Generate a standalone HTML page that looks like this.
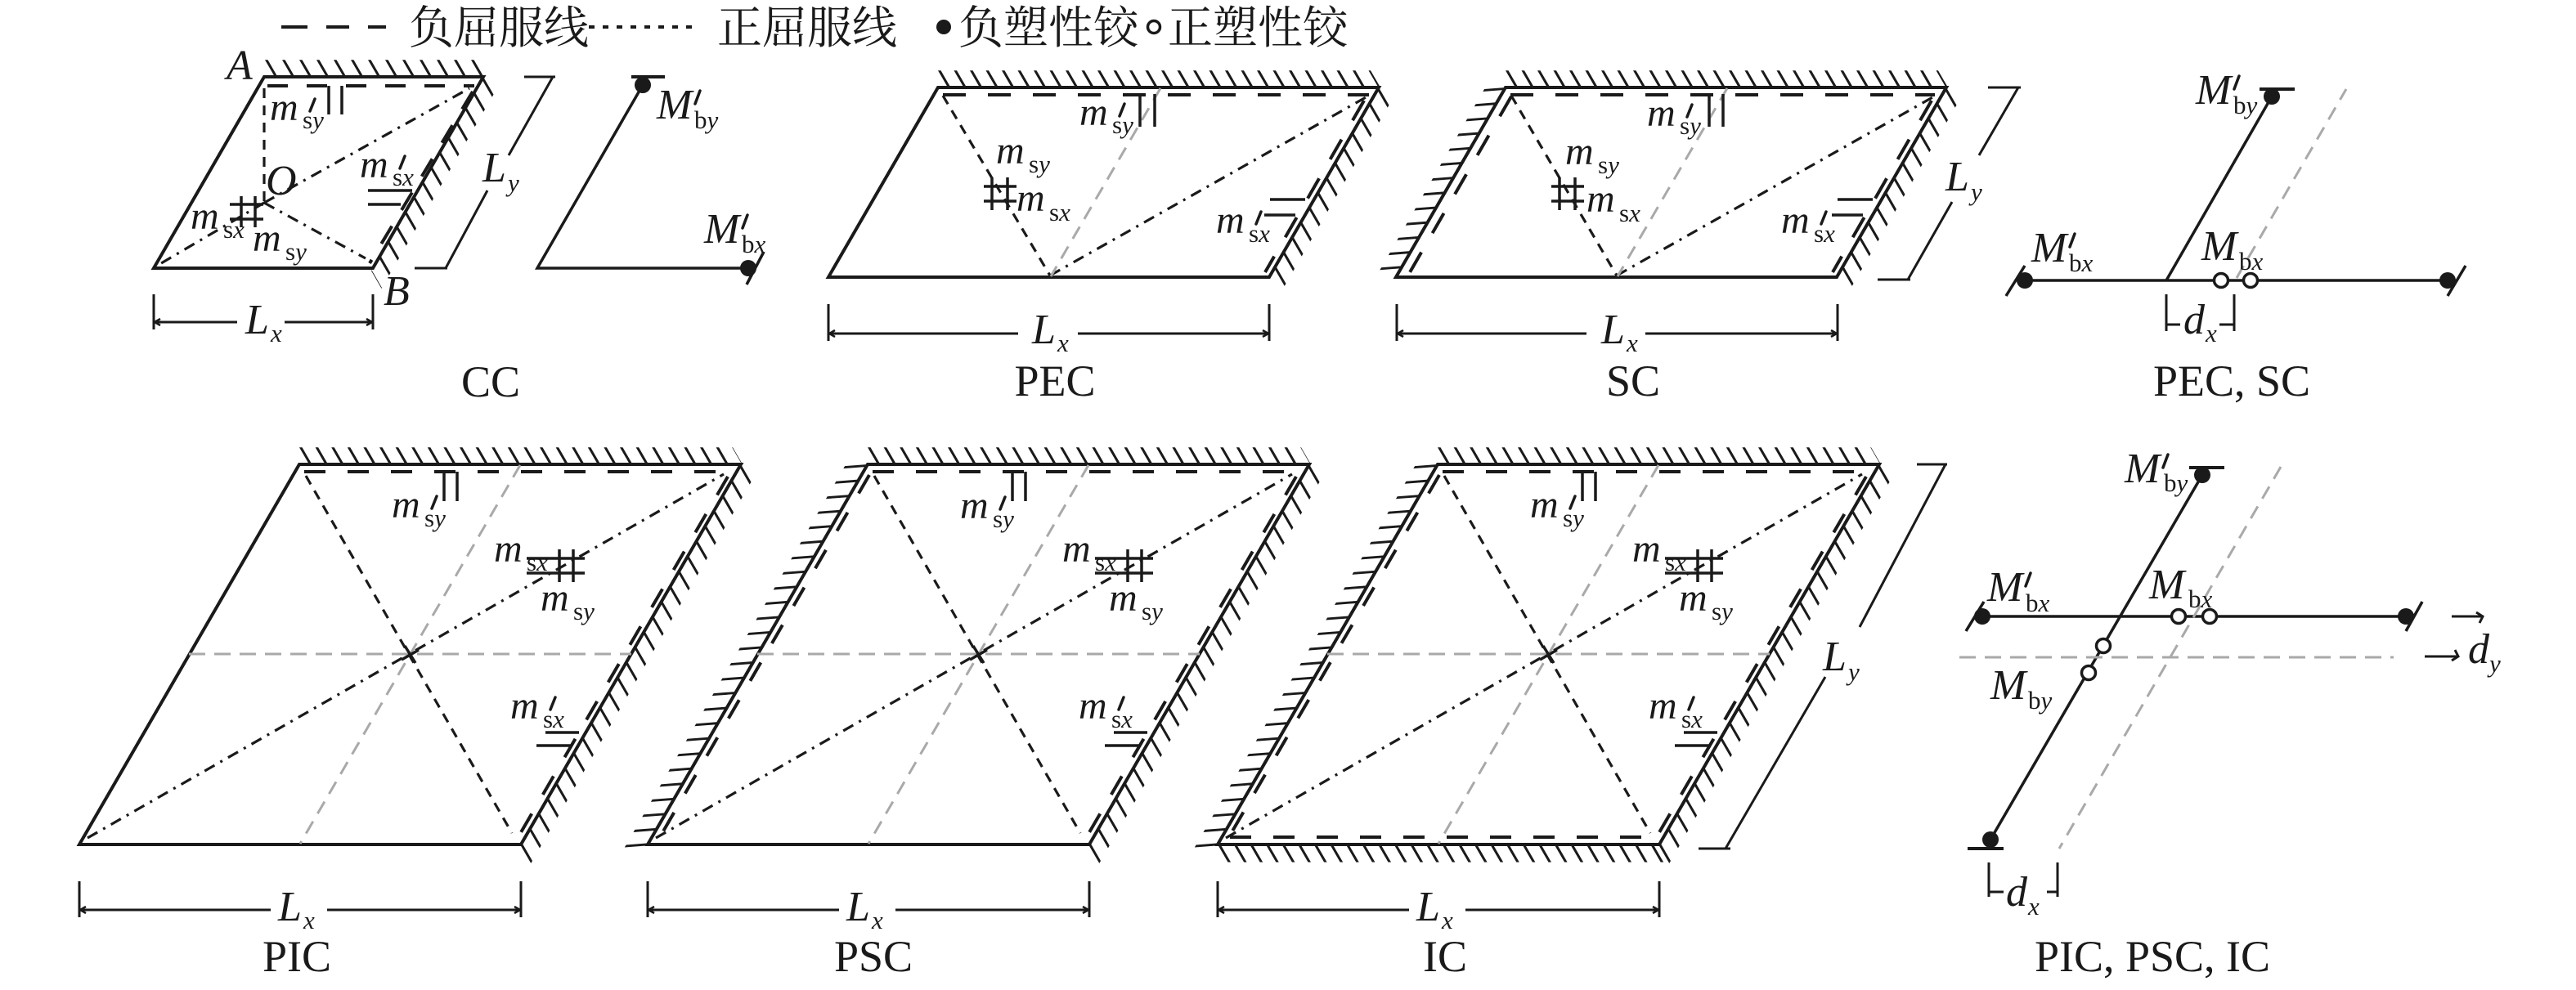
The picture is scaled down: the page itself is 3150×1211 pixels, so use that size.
<!DOCTYPE html>
<html><head><meta charset="utf-8">
<style>
html,body{margin:0;padding:0;background:#fff;}
svg{display:block}
</style></head><body>
<svg width="3150" height="1211" viewBox="0 0 3150 1211" xmlns="http://www.w3.org/2000/svg">
<rect width="3150" height="1211" fill="#fff"/>

<!-- ================= LEGEND ================= -->
<g stroke="#1a1a1a" fill="none">
<path d="M344 33H376M399 33H427M450 33H472" stroke-width="4"/>
<line x1="720" y1="33" x2="846" y2="33" stroke-width="4" stroke-dasharray="7 10"/>
<circle cx="1154" cy="33" r="9" fill="#1a1a1a" stroke="none"/>
<circle cx="1411" cy="33" r="7.5" stroke-width="3.5" fill="#fff"/>
</g>
<g font-family="'Liberation Serif','Noto Serif CJK SC',serif" font-size="55" fill="#1a1a1a">
<text x="500" y="53">负屈服线</text>
<text x="877" y="53">正屈服线</text>
<text x="1172" y="53">负塑性铰</text>
<text x="1428" y="53">正塑性铰</text>
</g>

<!-- ================= HATCHES ================= -->
<g stroke="#1a1a1a" fill="none">
<!-- CC -->
<g transform="matrix(1 0 -0.5 -0.866 323 94)"><line x1="13" y1="12" x2="270" y2="12" stroke-width="24" stroke-dasharray="3.5 17.5"/></g>
<g transform="matrix(-0.5 0.866 0.5 0.866 591 94)"><line x1="0" y1="12.5" x2="274" y2="12.5" stroke-width="25" stroke-dasharray="3.5 17.5"/></g>
<!-- PEC -->
<g transform="matrix(1 0 -0.5 -0.866 1147 107)"><line x1="12" y1="12" x2="541" y2="12" stroke-width="24" stroke-dasharray="3.5 16"/></g>
<g transform="matrix(-0.5 0.866 0.5 0.866 1686 107)"><line x1="0" y1="12.5" x2="272" y2="12.5" stroke-width="25" stroke-dasharray="3.5 17.5"/></g>
<!-- SC -->
<g transform="matrix(1 0 -0.5 -0.866 1841 107)"><line x1="12" y1="12" x2="541" y2="12" stroke-width="24" stroke-dasharray="3.5 16"/></g>
<g transform="matrix(-0.5 0.866 0.5 0.866 2380 107)"><line x1="0" y1="12.5" x2="272" y2="12.5" stroke-width="25" stroke-dasharray="3.5 17.5"/></g>
<g transform="matrix(-0.5 0.866 -0.997 0.077 1841 107)"><line x1="0" y1="13" x2="270" y2="13" stroke-width="26" stroke-dasharray="3.5 17.5"/></g>
<!-- PIC -->
<g transform="matrix(1 0 -0.5 -0.866 366 568)"><line x1="12" y1="12" x2="542" y2="12" stroke-width="24" stroke-dasharray="3.5 16.1"/></g>
<g transform="matrix(-0.5 0.866 0.5 0.866 906 568)"><line x1="0" y1="12.5" x2="542" y2="12.5" stroke-width="25" stroke-dasharray="3.5 17.9"/></g>
<!-- PSC -->
<g transform="matrix(1 0 -0.5 -0.866 1061 568)"><line x1="12" y1="12" x2="542" y2="12" stroke-width="24" stroke-dasharray="3.5 16.1"/></g>
<g transform="matrix(-0.5 0.866 0.5 0.866 1601 568)"><line x1="0" y1="12.5" x2="542" y2="12.5" stroke-width="25" stroke-dasharray="3.5 17.9"/></g>
<g transform="matrix(-0.5 0.866 -0.997 0.077 1061 568)"><line x1="0" y1="14" x2="540" y2="14" stroke-width="28" stroke-dasharray="3.5 17.9"/></g>
<!-- IC -->
<g transform="matrix(1 0 -0.5 -0.866 1758 568)"><line x1="12" y1="12" x2="542" y2="12" stroke-width="24" stroke-dasharray="3.5 16.1"/></g>
<g transform="matrix(-0.5 0.866 0.5 0.866 2298 568)"><line x1="0" y1="12.5" x2="542" y2="12.5" stroke-width="25" stroke-dasharray="3.5 17.9"/></g>
<g transform="matrix(-0.5 0.866 -0.997 0.077 1758 568)"><line x1="0" y1="14" x2="540" y2="14" stroke-width="28" stroke-dasharray="3.5 17.9"/></g>
<g transform="matrix(1 0 0.5 0.866 1489 1033)"><line x1="0" y1="12.5" x2="542" y2="12.5" stroke-width="25" stroke-dasharray="3.5 16.1"/></g>
</g>

<!-- ================= PLATES ================= -->
<g stroke="#1a1a1a" fill="none">
<!-- CC -->
<polygon points="323,94 591,94 456,328 188,328" stroke-width="4"/>
<line x1="327" y1="105" x2="580" y2="105" stroke-width="4" stroke-dasharray="25 23"/>
<line x1="578" y1="112" x2="452" y2="322" stroke-width="4" stroke-dasharray="25 23"/>
<line x1="323" y1="108" x2="323" y2="248" stroke-width="3.2" stroke-dasharray="12 9"/>
<line x1="323" y1="248" x2="574" y2="108" stroke-width="3.2" stroke-dasharray="14 8 3 8"/>
<line x1="323" y1="248" x2="192" y2="325" stroke-width="3.2" stroke-dasharray="14 8 3 8"/>
<line x1="323" y1="248" x2="447" y2="316" stroke-width="3.2" stroke-dasharray="14 8 3 8"/>
<path d="M402 105V140M418 105V140" stroke-width="3.5"/>
<path d="M450 233H504M450 250H490" stroke-width="3.5"/>
<path d="M295 240V278M312 240V278M281 250H322M281 268H322" stroke-width="3.5"/>
<!-- CC dims -->
<path d="M641 94H679M676 94L622 190M596 233L545 328M507 328H547" stroke-width="3"/>
<path d="M188 360V403M456 360V403M188 394H290M348 394H456" stroke-width="3"/>
<path d="M196 390L189 394L196 398M448 390L455 394L448 398" stroke-width="2.5"/>
<!-- CC beam -->
<path d="M772 94H813" stroke-width="4"/>
<path d="M786 104L657 328H915" stroke-width="3.5"/>
<path d="M934 308L913 348" stroke-width="3.5"/>

<!-- PEC -->
<polygon points="1147,107 1686,107 1552,339 1013,339" stroke-width="4"/>
<line x1="1153" y1="116" x2="1674" y2="116" stroke-width="4" stroke-dasharray="28 27"/>
<line x1="1668" y1="123" x2="1547" y2="333" stroke-width="4" stroke-dasharray="28 27"/>
<line x1="1153" y1="117" x2="1284" y2="337" stroke-width="3.2" stroke-dasharray="12 9"/>
<line x1="1284" y1="337" x2="1672" y2="118" stroke-width="3.2" stroke-dasharray="14 8 3 8"/>
<line x1="1419" y1="108" x2="1285" y2="338" stroke="#a9a9a9" stroke-width="3" stroke-dasharray="17 11"/>
<path d="M1394 115V155M1412 115V155" stroke-width="3.5"/>
<path d="M1213 217V257M1232 217V257M1203 228H1243M1203 246H1243" stroke-width="3.5"/>
<path d="M1553 244H1596M1546 263H1584" stroke-width="3.5"/>
<path d="M1013 372V417M1552 372V417M1013 408H1245M1318 408H1552" stroke-width="3"/>
<path d="M1021 404L1014 408L1021 412M1544 404L1551 408L1544 412" stroke-width="2.5"/>

<!-- SC -->
<polygon points="1841,107 2380,107 2246,339 1707,339" stroke-width="4"/>
<line x1="1847" y1="116" x2="2366" y2="116" stroke-width="4" stroke-dasharray="28 27"/>
<line x1="2362" y1="123" x2="2241" y2="333" stroke-width="4" stroke-dasharray="28 27"/>
<line x1="1848" y1="118" x2="1724" y2="333" stroke-width="4" stroke-dasharray="28 27"/>
<line x1="1848" y1="117" x2="1977" y2="337" stroke-width="3.2" stroke-dasharray="12 9"/>
<line x1="1977" y1="337" x2="2365" y2="118" stroke-width="3.2" stroke-dasharray="14 8 3 8"/>
<line x1="2112" y1="108" x2="1978" y2="338" stroke="#a9a9a9" stroke-width="3" stroke-dasharray="17 11"/>
<path d="M2090 115V155M2107 115V155" stroke-width="3.5"/>
<path d="M1907 217V257M1926 217V257M1897 228H1937M1897 246H1937" stroke-width="3.5"/>
<path d="M2247 244H2290M2240 263H2278" stroke-width="3.5"/>
<path d="M1708 372V417M2247 372V417M1708 408H1940M2012 408H2247" stroke-width="3"/>
<path d="M1716 404L1709 408L1716 412M2239 404L2246 408L2239 412" stroke-width="2.5"/>
<path d="M2431 107H2471M2468 107L2420 190M2387 247L2333 342M2296 342H2336" stroke-width="3"/>

<!-- PEC, SC beam -->
<path d="M2476 343H2993" stroke-width="3.5"/>
<path d="M2453 362L2476 325M2993 362L3015 325" stroke-width="3.5"/>
<path d="M2649 343L2778 118" stroke-width="3.5"/>
<path d="M2763 109H2806" stroke-width="4"/>
<line x1="2735" y1="340" x2="2869" y2="109" stroke="#a9a9a9" stroke-width="3" stroke-dasharray="17 11"/>
<path d="M2649 360V405M2732 360V405M2649 397H2666M2714 397H2732" stroke-width="3"/>

<!-- PIC -->
<polygon points="366,568 906,568 637,1033 97,1033" stroke-width="4"/>
<line x1="372" y1="577" x2="890" y2="577" stroke-width="4" stroke-dasharray="26 27"/>
<line x1="890" y1="583" x2="633" y2="1025" stroke-width="4" stroke-dasharray="26 27"/>
<line x1="374" y1="582" x2="626" y2="1019" stroke-width="3.2" stroke-dasharray="12 9"/>
<line x1="107" y1="1025" x2="885" y2="580" stroke-width="3.2" stroke-dasharray="14 8 3 8"/>
<line x1="636" y1="569" x2="367" y2="1032" stroke="#a9a9a9" stroke-width="3" stroke-dasharray="17 11"/>
<line x1="231" y1="800" x2="772" y2="800" stroke="#a9a9a9" stroke-width="3" stroke-dasharray="20 11"/>
<path d="M495 790L508 811M491 807L512 795" stroke-width="3.5"/>
<path d="M543 577V613M559 577V613" stroke-width="3.5"/>
<path d="M684 672V712M701 672V712M644 683H715M644 701H715" stroke-width="3.5"/>
<path d="M667 896H708M656 912H699" stroke-width="3.5"/>
<path d="M97 1078V1122M637 1078V1122M97 1113H331M400 1113H637" stroke-width="3"/>
<path d="M105 1109L98 1113L105 1117M629 1109L636 1113L629 1117" stroke-width="2.5"/>

<!-- PSC -->
<polygon points="1061,568 1601,568 1332,1033 792,1033" stroke-width="4"/>
<line x1="1067" y1="577" x2="1585" y2="577" stroke-width="4" stroke-dasharray="26 27"/>
<line x1="1585" y1="583" x2="1328" y2="1025" stroke-width="4" stroke-dasharray="26 27"/>
<line x1="1063" y1="581" x2="808" y2="1022" stroke-width="4" stroke-dasharray="26 27"/>
<line x1="1069" y1="582" x2="1321" y2="1019" stroke-width="3.2" stroke-dasharray="12 9"/>
<line x1="802" y1="1025" x2="1580" y2="580" stroke-width="3.2" stroke-dasharray="14 8 3 8"/>
<line x1="1331" y1="569" x2="1062" y2="1032" stroke="#a9a9a9" stroke-width="3" stroke-dasharray="17 11"/>
<line x1="926" y1="800" x2="1467" y2="800" stroke="#a9a9a9" stroke-width="3" stroke-dasharray="20 11"/>
<path d="M1190 790L1203 811M1186 807L1207 795" stroke-width="3.5"/>
<path d="M1238 577V613M1254 577V613" stroke-width="3.5"/>
<path d="M1379 672V712M1396 672V712M1339 683H1410M1339 701H1410" stroke-width="3.5"/>
<path d="M1362 896H1403M1351 912H1394" stroke-width="3.5"/>
<path d="M792 1078V1122M1332 1078V1122M792 1113H1026M1095 1113H1332" stroke-width="3"/>
<path d="M800 1109L793 1113L800 1117M1324 1109L1331 1113L1324 1117" stroke-width="2.5"/>

<!-- IC -->
<polygon points="1758,568 2298,568 2029,1033 1489,1033" stroke-width="4"/>
<line x1="1764" y1="577" x2="2282" y2="577" stroke-width="4" stroke-dasharray="26 27"/>
<line x1="2282" y1="583" x2="2025" y2="1025" stroke-width="4" stroke-dasharray="26 27"/>
<line x1="1760" y1="581" x2="1505" y2="1020" stroke-width="4" stroke-dasharray="26 27"/>
<line x1="1504" y1="1024" x2="2020" y2="1024" stroke-width="4" stroke-dasharray="26 27"/>
<line x1="1766" y1="582" x2="2018" y2="1019" stroke-width="3.2" stroke-dasharray="12 9"/>
<line x1="1499" y1="1025" x2="2277" y2="580" stroke-width="3.2" stroke-dasharray="14 8 3 8"/>
<line x1="2028" y1="569" x2="1759" y2="1032" stroke="#a9a9a9" stroke-width="3" stroke-dasharray="17 11"/>
<line x1="1623" y1="800" x2="2164" y2="800" stroke="#a9a9a9" stroke-width="3" stroke-dasharray="20 11"/>
<path d="M1887 790L1900 811M1883 807L1904 795" stroke-width="3.5"/>
<path d="M1935 577V613M1951 577V613" stroke-width="3.5"/>
<path d="M2076 672V712M2093 672V712M2036 683H2107M2036 701H2107" stroke-width="3.5"/>
<path d="M2059 896H2100M2048 912H2091" stroke-width="3.5"/>
<path d="M1489 1078V1122M2029 1078V1122M1489 1113H1723M1792 1113H2029" stroke-width="3"/>
<path d="M1497 1109L1490 1113L1497 1117M2021 1109L2028 1113L2021 1117" stroke-width="2.5"/>
<path d="M2344 568H2381M2379 568L2274 767M2232 828L2110 1038M2077 1038H2116" stroke-width="3"/>

<!-- PIC, PSC, IC beam -->
<path d="M2424 754H2942" stroke-width="3.5"/>
<path d="M2404 772L2426 736M2942 772L2962 736" stroke-width="3.5"/>
<path d="M2693 581L2434 1027" stroke-width="3.5"/>
<path d="M2677 572H2720M2406 1038H2450" stroke-width="4"/>
<line x1="2789" y1="571" x2="2518" y2="1038" stroke="#a9a9a9" stroke-width="3" stroke-dasharray="17 11"/>
<line x1="2396" y1="804" x2="2927" y2="804" stroke="#a9a9a9" stroke-width="3" stroke-dasharray="20 11"/>
<path d="M2998 754H3036M3028 749L3036 754L3032 762M2965 803H3006M2998 808L3006 803L3002 795" stroke-width="3"/>
<path d="M2432 1055V1097M2516 1055V1097M2432 1091H2450M2503 1091H2516" stroke-width="3"/>
</g>

<!-- hinges -->
<g fill="#1a1a1a">
<circle cx="786" cy="104" r="10"/>
<circle cx="915" cy="328" r="10"/>
<circle cx="2476" cy="343" r="10"/>
<circle cx="2993" cy="343" r="10"/>
<circle cx="2778" cy="118" r="10"/>
<circle cx="2424" cy="754" r="10"/>
<circle cx="2942" cy="754" r="10"/>
<circle cx="2693" cy="581" r="10"/>
<circle cx="2434" cy="1027" r="10"/>
</g>
<g fill="#fff" stroke="#1a1a1a" stroke-width="3.5">
<circle cx="2716" cy="343" r="8.5"/>
<circle cx="2752" cy="343" r="8.5"/>
<circle cx="2664" cy="754" r="8.5"/>
<circle cx="2702" cy="754" r="8.5"/>
<circle cx="2572" cy="790" r="8.5"/>
<circle cx="2554" cy="823" r="8.5"/>
</g>

<!-- primes -->
<g stroke="#1a1a1a" stroke-width="3.5" stroke-linecap="round" fill="none">
<path d="M385 121L379 136"/>
<path d="M495 191L489 206"/>
<path d="M1375 127L1369 142"/>
<path d="M1542 259L1536 274"/>
<path d="M2069 128L2063 143"/>
<path d="M2233 259L2227 274"/>
<path d="M534 607L528 622"/>
<path d="M679 853L673 868"/>
<path d="M1229 608L1223 623"/>
<path d="M1374 853L1368 868"/>
<path d="M1926 607L1920 622"/>
<path d="M2071 853L2065 868"/>
<path d="M856 111L850 127"/>
<path d="M914 263L908 279"/>
<path d="M2738 93L2732 109"/>
<path d="M2537 286L2531 302"/>
<path d="M2651 556L2645 572"/>
<path d="M2483 701L2477 717"/>
</g>

<!-- ================= TEXT ================= -->
<g font-family="'Liberation Serif','Times New Roman',serif" fill="#1a1a1a">
<!-- CC -->
<text x="277" y="97" font-size="52" font-style="italic">A</text>
<text x="469" y="373" font-size="52" font-style="italic">B</text>
<text x="325" y="238" font-size="52" font-style="italic">O</text>
<text x="330" y="147" font-size="48" font-style="italic">m</text><text x="370" y="157" font-size="31">s<tspan font-style="italic">y</tspan></text>
<text x="440" y="217" font-size="48" font-style="italic">m</text><text x="480" y="227" font-size="31">s<tspan font-style="italic">x</tspan></text>
<text x="233" y="280" font-size="48" font-style="italic">m</text><text x="273" y="291" font-size="31">s<tspan font-style="italic">x</tspan></text>
<text x="309" y="307" font-size="48" font-style="italic">m</text><text x="349" y="318" font-size="31">s<tspan font-style="italic">y</tspan></text>
<text x="590" y="222" font-size="52" font-style="italic">L</text><text x="621" y="234" font-size="31" font-style="italic">y</text>
<text x="300" y="408" font-size="52" font-style="italic">L</text><text x="331" y="418" font-size="31" font-style="italic">x</text>
<text x="803" y="145" font-size="52" font-style="italic">M</text><text x="849" y="157" font-size="31">b<tspan font-style="italic">y</tspan></text>
<text x="861" y="297" font-size="52" font-style="italic">M</text><text x="907" y="309" font-size="31">b<tspan font-style="italic">x</tspan></text>
<text x="600" y="485" font-size="54" text-anchor="middle">CC</text>

<!-- PEC -->
<text x="1320" y="153" font-size="48" font-style="italic">m</text><text x="1360" y="163" font-size="31">s<tspan font-style="italic">y</tspan></text>
<text x="1218" y="200" font-size="48" font-style="italic">m</text><text x="1258" y="211" font-size="31">s<tspan font-style="italic">y</tspan></text>
<text x="1243" y="258" font-size="48" font-style="italic">m</text><text x="1283" y="270" font-size="31">s<tspan font-style="italic">x</tspan></text>
<text x="1487" y="285" font-size="48" font-style="italic">m</text><text x="1527" y="296" font-size="31">s<tspan font-style="italic">x</tspan></text>
<text x="1262" y="420" font-size="52" font-style="italic">L</text><text x="1293" y="430" font-size="31" font-style="italic">x</text>
<text x="1290" y="484" font-size="54" text-anchor="middle">PEC</text>

<!-- SC -->
<text x="2014" y="154" font-size="48" font-style="italic">m</text><text x="2054" y="164" font-size="31">s<tspan font-style="italic">y</tspan></text>
<text x="1914" y="201" font-size="48" font-style="italic">m</text><text x="1954" y="212" font-size="31">s<tspan font-style="italic">y</tspan></text>
<text x="1940" y="259" font-size="48" font-style="italic">m</text><text x="1980" y="271" font-size="31">s<tspan font-style="italic">x</tspan></text>
<text x="2178" y="285" font-size="48" font-style="italic">m</text><text x="2218" y="296" font-size="31">s<tspan font-style="italic">x</tspan></text>
<text x="1958" y="420" font-size="52" font-style="italic">L</text><text x="1989" y="430" font-size="31" font-style="italic">x</text>
<text x="2379" y="233" font-size="52" font-style="italic">L</text><text x="2410" y="245" font-size="31" font-style="italic">y</text>
<text x="1997" y="484" font-size="54" text-anchor="middle">SC</text>

<!-- PEC, SC beam -->
<text x="2685" y="127" font-size="52" font-style="italic">M</text><text x="2731" y="139" font-size="31">b<tspan font-style="italic">y</tspan></text>
<text x="2484" y="320" font-size="52" font-style="italic">M</text><text x="2530" y="332" font-size="31">b<tspan font-style="italic">x</tspan></text>
<text x="2692" y="318" font-size="52" font-style="italic">M</text><text x="2738" y="330" font-size="31">b<tspan font-style="italic">x</tspan></text>
<text x="2670" y="408" font-size="52" font-style="italic">d</text><text x="2697" y="418" font-size="31" font-style="italic">x</text>
<text x="2729" y="484" font-size="54" text-anchor="middle">PEC, SC</text>

<!-- PIC -->
<text x="479" y="633" font-size="48" font-style="italic">m</text><text x="519" y="644" font-size="31">s<tspan font-style="italic">y</tspan></text>
<text x="604" y="687" font-size="48" font-style="italic">m</text><text x="644" y="698" font-size="31">s<tspan font-style="italic">x</tspan></text>
<text x="661" y="747" font-size="48" font-style="italic">m</text><text x="701" y="758" font-size="31">s<tspan font-style="italic">y</tspan></text>
<text x="624" y="879" font-size="48" font-style="italic">m</text><text x="664" y="890" font-size="31">s<tspan font-style="italic">x</tspan></text>
<text x="340" y="1126" font-size="52" font-style="italic">L</text><text x="371" y="1136" font-size="31" font-style="italic">x</text>
<text x="363" y="1188" font-size="54" text-anchor="middle">PIC</text>

<!-- PSC -->
<text x="1174" y="634" font-size="48" font-style="italic">m</text><text x="1214" y="645" font-size="31">s<tspan font-style="italic">y</tspan></text>
<text x="1299" y="687" font-size="48" font-style="italic">m</text><text x="1339" y="698" font-size="31">s<tspan font-style="italic">x</tspan></text>
<text x="1356" y="747" font-size="48" font-style="italic">m</text><text x="1396" y="758" font-size="31">s<tspan font-style="italic">y</tspan></text>
<text x="1319" y="879" font-size="48" font-style="italic">m</text><text x="1359" y="890" font-size="31">s<tspan font-style="italic">x</tspan></text>
<text x="1035" y="1126" font-size="52" font-style="italic">L</text><text x="1066" y="1136" font-size="31" font-style="italic">x</text>
<text x="1068" y="1188" font-size="54" text-anchor="middle">PSC</text>

<!-- IC -->
<text x="1871" y="633" font-size="48" font-style="italic">m</text><text x="1911" y="644" font-size="31">s<tspan font-style="italic">y</tspan></text>
<text x="1996" y="687" font-size="48" font-style="italic">m</text><text x="2036" y="698" font-size="31">s<tspan font-style="italic">x</tspan></text>
<text x="2053" y="747" font-size="48" font-style="italic">m</text><text x="2093" y="758" font-size="31">s<tspan font-style="italic">y</tspan></text>
<text x="2016" y="879" font-size="48" font-style="italic">m</text><text x="2056" y="890" font-size="31">s<tspan font-style="italic">x</tspan></text>
<text x="1732" y="1126" font-size="52" font-style="italic">L</text><text x="1763" y="1136" font-size="31" font-style="italic">x</text>
<text x="2229" y="820" font-size="52" font-style="italic">L</text><text x="2260" y="832" font-size="31" font-style="italic">y</text>
<text x="1767" y="1188" font-size="54" text-anchor="middle">IC</text>

<!-- PIC, PSC, IC beam -->
<text x="2598" y="590" font-size="52" font-style="italic">M</text><text x="2646" y="601" font-size="31">b<tspan font-style="italic">y</tspan></text>
<text x="2430" y="735" font-size="52" font-style="italic">M</text><text x="2477" y="748" font-size="31">b<tspan font-style="italic">x</tspan></text>
<text x="2628" y="732" font-size="52" font-style="italic">M</text><text x="2676" y="743" font-size="31">b<tspan font-style="italic">x</tspan></text>
<text x="2434" y="855" font-size="52" font-style="italic">M</text><text x="2480" y="867" font-size="31">b<tspan font-style="italic">y</tspan></text>
<text x="3018" y="811" font-size="52" font-style="italic">d</text><text x="3044" y="822" font-size="31" font-style="italic">y</text>
<text x="2453" y="1108" font-size="52" font-style="italic">d</text><text x="2480" y="1119" font-size="31" font-style="italic">x</text>
<text x="2632" y="1188" font-size="54" text-anchor="middle">PIC, PSC, IC</text>
</g>
</svg>
</body></html>
